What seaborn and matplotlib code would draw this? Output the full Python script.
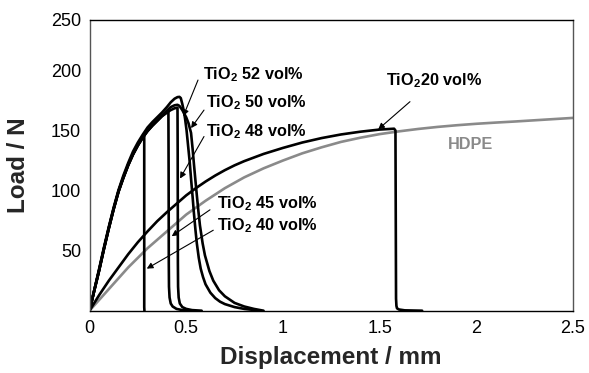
import matplotlib
matplotlib.use("Agg")
import matplotlib.pyplot as plt
import seaborn as sns

# ---------------- data ----------------
hdpe_x = [0, 0.1, 0.2, 0.3, 0.4, 0.5, 0.6, 0.7, 0.8, 0.9, 1.0, 1.1, 1.2, 1.3,
          1.4, 1.5, 1.6, 1.7, 1.8, 1.9, 2.0, 2.1, 2.2, 2.3, 2.4, 2.5]
hdpe_y = [0, 18, 36, 52, 66, 80, 91.5, 102, 111, 118.5, 125, 131, 136, 140.5,
          144, 147, 149.3, 151.3, 153, 154.4, 155.6, 156.6, 157.5, 158.5, 159.5, 160.5]

t20_x = [0, 0.05, 0.1, 0.15, 0.2, 0.25, 0.3, 0.35, 0.4, 0.45, 0.5, 0.55, 0.6,
         0.65, 0.7, 0.75, 0.8, 0.85, 0.9, 0.95, 1.0, 1.1, 1.2, 1.3, 1.4, 1.5,
         1.575, 1.582, 1.585, 1.587, 1.59, 1.6, 1.63, 1.72]
t20_y = [0, 13, 25, 36, 47, 57, 66, 74.5, 82, 89, 96, 102, 107.5,
         112.5, 117, 121, 124.5, 127.5, 130.5, 133, 135.5, 140, 143.7, 146.7, 149, 150.8,
         151.5, 150, 10, 4, 2, 1, 0.3, 0]

t40_x = [0, 0.025, 0.05, 0.075, 0.1, 0.125, 0.15, 0.175, 0.2, 0.225, 0.25, 0.275,
         0.283, 0.283, 0.284]
t40_y = [0, 17, 34, 52, 69, 85, 99.5, 111, 121.5, 130.5, 138, 144.5,
         146.5, 3, 0]

t45_x = [0, 0.025, 0.05, 0.075, 0.1, 0.125, 0.15, 0.175, 0.2, 0.225, 0.25, 0.275,
         0.3, 0.325, 0.35, 0.375, 0.4, 0.408, 0.409, 0.41, 0.411, 0.414, 0.42,
         0.43, 0.45, 0.48, 0.52]
t45_y = [0, 17, 33.5, 51.5, 68.5, 84.5, 99, 110.5, 121, 130, 137.5, 144,
         149.5, 154, 158, 162, 165, 166, 120, 40, 20, 11, 6,
         3.5, 1.5, 0.5, 0]

t48_x = [0, 0.025, 0.05, 0.075, 0.1, 0.125, 0.15, 0.175, 0.2, 0.225, 0.25, 0.275,
         0.3, 0.325, 0.35, 0.375, 0.4, 0.42, 0.44, 0.455, 0.456, 0.457, 0.458,
         0.461, 0.467, 0.48, 0.5, 0.53, 0.58]
t48_y = [0, 17, 33.5, 51.5, 68.5, 84.5, 99, 110.5, 121, 130, 137.5, 144,
         149.5, 154, 158, 162, 165, 167, 168.5, 169, 130, 40, 20,
         11, 6, 3, 1.5, 0.5, 0]

t50_x = [0, 0.025, 0.05, 0.075, 0.1, 0.125, 0.15, 0.175, 0.2, 0.225, 0.25, 0.275,
         0.3, 0.325, 0.35, 0.375, 0.4, 0.42, 0.44, 0.455, 0.465, 0.48, 0.5, 0.512,
         0.525, 0.533, 0.54, 0.548, 0.555, 0.563, 0.571, 0.585, 0.597, 0.62, 0.64,
         0.67, 0.7, 0.75, 0.8, 0.85, 0.9]
t50_y = [0, 17, 34, 52, 69, 85, 99.5, 111, 121.5, 130.5, 138, 144.5,
         150, 154.5, 158.5, 162.5, 166.5, 169.5, 171, 171.4, 170.5, 167, 161, 156,
         148, 135, 122, 108, 96, 83, 71, 56, 46, 33, 25,
         17, 12, 6.5, 3.5, 1.5, 0]

t52_x = [0, 0.025, 0.05, 0.075, 0.1, 0.125, 0.15, 0.175, 0.2, 0.225, 0.25, 0.275,
         0.3, 0.325, 0.35, 0.375, 0.4, 0.42, 0.44, 0.455, 0.465, 0.472, 0.48, 0.488,
         0.494, 0.502, 0.51, 0.518, 0.525, 0.533, 0.54, 0.548, 0.555, 0.565, 0.575,
         0.587, 0.6, 0.625, 0.65, 0.675, 0.7, 0.75, 0.8, 0.85, 0.88]
t52_y = [0, 17.5, 35, 53, 70, 86, 100.5, 112.5, 123, 132.5, 140, 146.5,
         152.5, 157, 161, 165, 169.5, 173.5, 176.5, 177.8, 178, 177, 172, 166,
         160, 150, 137, 124, 110, 95, 81, 67, 56, 44, 35,
         28, 22, 15, 10.5, 7.5, 5.5, 3, 1.5, 0.6, 0]

x_ticks = [0, 0.5, 1, 1.5, 2, 2.5]
x_tick_labels = ["0", "0.5", "1", "1.5", "2", "2.5"]
y_ticks = [50, 100, 150, 200, 242]
y_tick_labels = ["50", "100", "150", "200", "250"]

labels = ["TiO$_2$ 52 vol%", "TiO$_2$ 50 vol%", "TiO$_2$ 48 vol%",
          "TiO$_2$ 45 vol%", "TiO$_2$ 40 vol%", "TiO$_2$20 vol%", "HDPE"]
label_pos = [(0.585, 196.4), (0.602, 172.8), (0.602, 149.0),
             (0.658, 89.5), (0.658, 70.8), (1.533, 191.7), (1.855, 138.0)]
arrow_from = [(0.561, 192), (0.592, 167), (0.592, 145), (0.623, 84), (0.64, 67),
              (1.657, 174)]
arrow_to = [(0.485, 162), (0.525, 152), (0.468, 110), (0.425, 62), (0.296, 35),
            (1.493, 151)]

# ---------------- style ----------------
sns.set_style("white")
plt.rcParams["font.family"] = ["Liberation Sans", "DejaVu Sans"]
plt.rcParams["mathtext.fontset"] = "custom"
plt.rcParams["mathtext.rm"] = "Liberation Sans:bold"
plt.rcParams["mathtext.it"] = "Liberation Sans:bold"
plt.rcParams["mathtext.bf"] = "Liberation Sans:bold"

fig = plt.figure(figsize=(5.89, 3.73), dpi=100)
ax = fig.add_axes([89.5 / 589, 1 - 310.7 / 373, (573 - 89.5) / 589, (310.7 - 20) / 373])

black = "#000000"
gray = "#8a8a8a"
series = [(hdpe_x, hdpe_y, gray), (t20_x, t20_y, black), (t40_x, t40_y, black),
          (t45_x, t45_y, black), (t48_x, t48_y, black), (t50_x, t50_y, black),
          (t52_x, t52_y, black)]
for xs, ys, c in series:
    sns.lineplot(x=xs, y=ys, ax=ax, sort=False, estimator=None, color=c,
                 linewidth=1.9, solid_joinstyle="round")

ax.set_xlim(0, 2.5)
ax.set_ylim(0, 242)
ax.set_xticks(x_ticks)
ax.set_xticklabels(x_tick_labels)
ax.set_yticks(y_ticks)
ax.set_yticklabels(y_tick_labels)
ax.tick_params(axis="both", direction="in", length=4, width=0.8, labelsize=13,
               colors="#555555", labelcolor="black")
ax.tick_params(axis="x", pad=7)
ax.tick_params(axis="y", pad=6)

for side in ["top", "bottom"]:
    ax.spines[side].set_color("black")
    ax.spines[side].set_linewidth(1.0)
for side in ["left", "right"]:
    ax.spines[side].set_color("#555555")
    ax.spines[side].set_linewidth(1.0)

ax.set_xlabel("Displacement / mm", fontsize=17.5, fontweight="bold", labelpad=6)
ax.set_ylabel("Load / N", fontsize=17.5, fontweight="bold", labelpad=15)

for i, (lab, (tx, ty)) in enumerate(zip(labels, label_pos)):
    col = gray if lab == "HDPE" else "black"
    ax.text(tx, ty, lab, fontsize=11.7, fontweight="bold", color=col,
            ha="left", va="center")
for (fx, fy), (ex, ey) in zip(arrow_from, arrow_to):
    ax.annotate("", xy=(ex, ey), xytext=(fx, fy),
                arrowprops=dict(arrowstyle="-|>", color="black", lw=0.8,
                                mutation_scale=9, shrinkA=0, shrinkB=0))

fig.savefig("out.png", dpi=100)
